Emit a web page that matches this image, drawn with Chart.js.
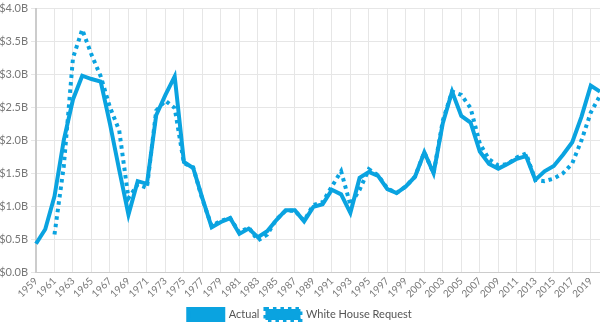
<!DOCTYPE html>
<html>
<head>
<meta charset="utf-8">
<script src="https://cdn.jsdelivr.net/npm/chart.js@4/dist/chart.umd.min.js"></script>
<style>
  html, body { margin: 0; padding: 0; background: #ffffff; overflow: hidden; }
  #wrap { width: 600px; height: 323px; position: relative; }
</style>
</head>
<body>
<div id="wrap"><canvas id="chart"></canvas></div>
<script>
// Fiscal years shown on the x axis
const years = [];
for (let y = 1959; y <= 2020; y++) years.push(String(y));

// Enacted funding, billions of dollars
const actual = [
  0.43, 0.65, 1.15, 2.00, 2.62, 2.98, 2.93, 2.89, 2.25, 1.55,
  0.87, 1.38, 1.34, 2.38, 2.69, 2.97, 1.67, 1.58, 1.12, 0.68,
  0.76, 0.82, 0.58, 0.66, 0.53, 0.62, 0.79, 0.94, 0.94, 0.77,
  0.99, 1.03, 1.25, 1.18, 0.90, 1.43, 1.52, 1.46, 1.26, 1.20,
  1.30, 1.45, 1.82, 1.50, 2.26, 2.74, 2.37, 2.27, 1.83, 1.64,
  1.57, 1.64, 1.72, 1.76, 1.40, 1.53, 1.61, 1.78, 1.97, 2.36,
  2.83, 2.74
];

// Budget requested by the White House, billions of dollars
const request = [
  null, null, 0.57, 1.60, 3.25, 3.68, 3.30, 2.97, 2.50, 2.15,
  1.12, 1.33, 1.28, 2.45, 2.60, 2.49, 1.65, 1.59, 1.10, 0.70,
  0.78, 0.82, 0.60, 0.68, 0.48, 0.57, 0.80, 0.93, 0.93, 0.78,
  1.02, 1.06, 1.30, 1.53, 1.02, 1.25, 1.56, 1.47, 1.27, 1.20,
  1.30, 1.45, 1.82, 1.50, 2.30, 2.74, 2.69, 2.49, 1.95, 1.71,
  1.62, 1.64, 1.74, 1.80, 1.40, 1.38, 1.42, 1.50, 1.65, 2.00,
  2.42, 2.68
];

// Value axis ticks (billions)
const yTicks = [0, 0.5, 1, 1.5, 2, 2.5, 3, 3.5, 4];

const BLUE = '#0aa3e0';
const GRID = '#e6e6e6';
const TEXT = '#777777';

new Chart(document.getElementById('chart'), {
  type: 'line',
  data: {
    labels: years,
    datasets: [
      {
        label: 'Actual',
        data: actual,
        borderColor: BLUE,
        backgroundColor: BLUE,
        borderWidth: 4,
        pointRadius: 0,
        tension: 0,
        fill: false
      },
      {
        label: 'White House Request',
        data: request,
        borderColor: BLUE,
        backgroundColor: BLUE,
        borderWidth: 4,
        borderDash: [3.5, 4],
        pointRadius: 0,
        tension: 0,
        fill: false,
        spanGaps: false
      }
    ]
  },
  options: {
    responsive: true,
    maintainAspectRatio: false,
    animation: false,
    layout: { padding: { top: 1, right: 0, left: 0, bottom: -7 } },
    plugins: {
      tooltip: { enabled: false },
      legend: {
        position: 'bottom',
        labels: {
          boxWidth: 35,
          boxHeight: 11,
          padding: 6,
          color: '#555555',
          font: { family: 'Lato', size: 11 }
        }
      }
    },
    scales: {
      x: {
        offset: false,
        // the final year has no label, so let the plot run to the right edge
        afterFit: (scale) => { scale.paddingRight = 0; },
        grid: {
          color: (ctx) => (ctx.index % 2 === 0 ? GRID : 'rgba(0,0,0,0)'),
          drawTicks: false
        },
        border: { color: '#cccccc', width: 1 },
        ticks: {
          autoSkip: false,
          minRotation: 45,
          maxRotation: 45,
          padding: 3,
          color: TEXT,
          font: { family: 'Lato', size: 10 },
          callback: function (value, index) {
            return index % 2 === 0 ? this.getLabelForValue(value) : '';
          }
        }
      },
      y: {
        min: 0,
        max: 4,
        afterFit: (scale) => { scale.width = 36; },
        afterBuildTicks: (scale) => { scale.ticks = yTicks.map(v => ({ value: v })); },
        grid: { color: GRID, tickLength: 5 },
        border: { color: '#cccccc', width: 2 },
        ticks: {
          padding: 3,
          color: TEXT,
          font: { family: 'Lato', size: 11, lineHeight: 1 },
          callback: (v) => '$' + Number(v).toFixed(1) + 'B'
        }
      }
    }
  }
});
</script>
</body>
</html>
